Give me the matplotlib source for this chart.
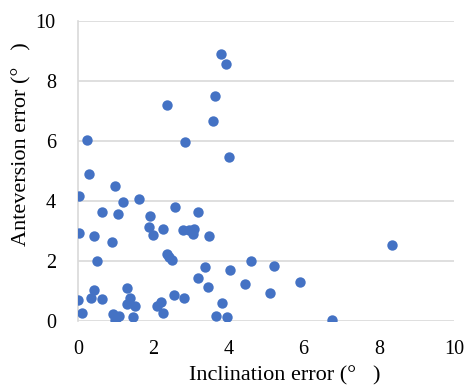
import matplotlib
matplotlib.use("Agg")
import matplotlib.pyplot as plt

inclination = [3.80, 3.94, 3.64, 2.38, 3.58, 0.25, 2.85, 4.02,
               0.29, 0.99, 0.03, 1.62, 1.21, 0.64, 1.06, 2.59, 3.19,
               1.92, 1.90, 1.99, 2.27, 2.78, 2.96, 3.09, 3.05, 3.49,
               0.03, 0.43, 0.91, 0.50, 2.36, 2.42, 2.51, 3.39, 4.60,
               4.05, 3.18, 3.47, 4.45, 3.82, 3.67, 3.96, 0.01, 0.11,
               0.43, 0.35, 0.63, 1.29, 1.38, 1.31, 1.51, 0.94, 1.03,
               1.10, 0.98, 1.47, 2.56, 2.81, 2.09, 2.20, 2.25, 8.36,
               5.21, 5.91, 5.11, 6.75]
anteversion = [8.89, 8.57, 7.48, 7.18, 6.65, 6.01, 5.96, 5.46,
               4.88, 4.50, 4.15, 4.07, 3.94, 3.61, 3.55, 3.79, 3.61,
               3.48, 3.11, 2.85, 3.05, 3.01, 3.01, 3.06, 2.88, 2.83,
               2.91, 2.82, 2.61, 2.00, 2.21, 2.14, 2.04, 1.80, 2.00,
               1.68, 1.41, 1.12, 1.23, 0.60, 0.17, 0.11, 0.68, 0.27,
               1.01, 0.75, 0.73, 1.08, 0.77, 0.57, 0.50, 0.21, 0.13,
               0.17, 0.02, 0.13, 0.85, 0.75, 0.50, 0.61, 0.27, 2.52,
               1.82, 1.29, 0.92, 0.01]
xticks = [0, 2, 4, 6, 8, 10]
yticks = [0, 2, 4, 6, 8, 10]

plt.rcParams['font.family'] = ['Liberation Serif']
fig = plt.figure(figsize=(4.68, 3.87), dpi=100)
ax = fig.add_axes([78/468, 1-320.7/387, (454-78)/468, 300/387])
ax.scatter(inclination, anteversion, s=56, color='#4472C4', zorder=3, linewidths=0)
ax.set_xlim(0, 10)
ax.set_ylim(0, 10)
ax.set_xticks(xticks)
ax.set_yticks(yticks)
ax.grid(axis='y', color='#D9D9D9', linewidth=1.2, zorder=0)
for s in ['top', 'right', 'bottom']:
    ax.spines[s].set_visible(False)
ax.spines['left'].set_color('#D9D9D9')
ax.spines['left'].set_linewidth(1.2)
ax.tick_params(length=0, labelsize=14.5, colors='#000000')
ax.tick_params(axis='x', pad=14)
ax.tick_params(axis='y', pad=16)
ax.set_xlabel('Inclination error (°   )', fontsize=16)
ax.set_ylabel('Anteversion error (°   )', fontsize=16)
ax.xaxis.set_label_coords((285-78)/376, -(366-320.7)/300)
ax.yaxis.set_label_coords((31-78)/376, (320.7-144)/300)
fig.savefig('out.png', dpi=100)
